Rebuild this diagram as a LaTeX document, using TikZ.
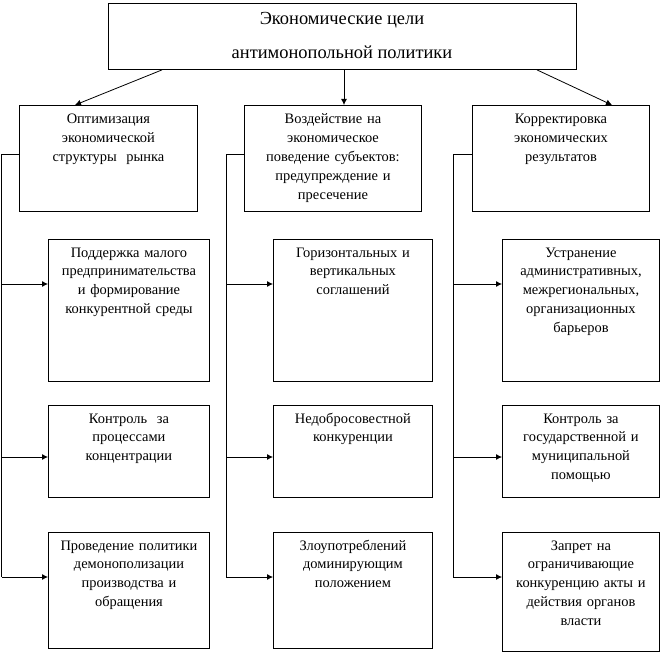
\documentclass[tikz,border=0pt]{standalone}
\usepackage{fontspec}
\setmainfont{Liberation Serif}
\usetikzlibrary{arrows.meta}
\begin{document}
\begin{tikzpicture}[x=1bp,y=-1bp,
  line width=0.8bp,
  box/.style={draw, line width=0.9bp, inner sep=0pt, anchor=north west},
  txt/.style={inner sep=0pt, anchor=base, align=center, text width=#1,
    font=\fontsize{14.5}{19}\selectfont},
  ttl/.style={inner sep=0pt, anchor=base, font=\fontsize{18.5}{22}\selectfont},
  arr/.style={-{Latex[length=6bp,width=6bp]}}]
\useasboundingbox (0,0) rectangle (662,655);
% top box
\node[box, minimum width=468bp, minimum height=66bp] (T) at (108,3) {};
\node[ttl] (T1) at (342,25) {Экономические цели};
\node[ttl] (T2) at (342,59) {антимонопольной политики};
% level 2
\node[box, minimum width=178bp, minimum height=106bp] (A) at (19,105) {};
\node[box, minimum width=177bp, minimum height=106bp] (B) at (244,105) {};
\node[box, minimum width=177bp, minimum height=106bp] (C) at (472,105) {};
\node[txt=178bp] (At) at ([yshift=-19bp]A.north) {Оптимизация\\экономической\\структуры~ рынка};
\node[txt=177bp] (Bt) at ([yshift=-19bp]B.north) {Воздействие на\\экономическое\\поведение субъектов:\\предупреждение и\\пресечение};
\node[txt=177bp] (Ct) at ([yshift=-19bp]C.north) {Корректировка\\экономических\\результатов};
% level 3 left
\node[box, minimum width=161bp, minimum height=142bp] (L1) at (48,239) {};
\node[box, minimum width=161bp, minimum height=92bp] (L2) at (48,405) {};
\node[box, minimum width=161bp, minimum height=116bp] (L3) at (48,532) {};
% level 3 middle
\node[box, minimum width=159bp, minimum height=142bp] (M1) at (273,239) {};
\node[box, minimum width=159bp, minimum height=92bp] (M2) at (273,405) {};
\node[box, minimum width=159bp, minimum height=116bp] (M3) at (273,532) {};
% level 3 right
\node[box, minimum width=157bp, minimum height=142bp] (R1) at (502,239) {};
\node[box, minimum width=157bp, minimum height=92bp] (R2) at (502,405) {};
\node[box, minimum width=157bp, minimum height=119bp] (R3) at (502,532) {};
% texts level 3
\node[txt=161bp] (L1t) at ([yshift=-18bp]L1.north) {Поддержка малого\\предпринимательства\\и формирование\\конкурентной среды};
\node[txt=161bp] (L2t) at ([yshift=-18bp]L2.north) {Контроль~ за\\процессами\\концентрации};
\node[txt=161bp] (L3t) at ([yshift=-18bp]L3.north) {Проведение политики\\демонополизации\\производства и\\обращения};
\node[txt=159bp] (M1t) at ([yshift=-18bp]M1.north) {Горизонтальных и\\вертикальных\\соглашений};
\node[txt=159bp] (M2t) at ([yshift=-18bp]M2.north) {Недобросовестной\\конкуренции};
\node[txt=159bp] (M3t) at ([yshift=-18bp]M3.north) {Злоупотреблений\\доминирующим\\положением};
\node[txt=157bp] (R1t) at ([yshift=-18bp]R1.north) {Устранение\\административных,\\межрегиональных,\\организационных\\барьеров};
\node[txt=157bp] (R2t) at ([yshift=-18bp]R2.north) {Контроль за\\государственной и\\муниципальной\\помощью};
\node[txt=157bp] (R3t) at ([yshift=-18bp]R3.north) {Запрет на\\ограничивающие\\конкуренцию акты и\\действия органов\\власти};
% top arrows
\draw[arr] (T.south -| 162,0) -- (A.north -| 75,0);
\draw[arr] (T.south -| 344,0) -- (B.north -| 344,0);
\draw[arr] (T.south -| 537,0) -- (C.north -| 612,0);
% brackets
\coordinate (bl) at (1.5,154);
\coordinate (bm) at (226,154);
\coordinate (br) at (453,154);
\draw (A.west |- bl) -- (bl) -- (bl |- 0,577);
\draw (B.west |- bm) -- (bm) -- (bm |- 0,577);
\draw (C.west |- br) -- (br) -- (br |- 0,577);
\draw[arr] (bl |- 0,284) -- (L1.west |- 0,284);
\draw[arr] (bl |- 0,457) -- (L2.west |- 0,457);
\draw[arr] (bl |- 0,577) -- (L3.west |- 0,577);
\draw[arr] (bm |- 0,284) -- (M1.west |- 0,284);
\draw[arr] (bm |- 0,457) -- (M2.west |- 0,457);
\draw[arr] (bm |- 0,577) -- (M3.west |- 0,577);
\draw[arr] (br |- 0,284) -- (R1.west |- 0,284);
\draw[arr] (br |- 0,457) -- (R2.west |- 0,457);
\draw[arr] (br |- 0,577) -- (R3.west |- 0,577);
\end{tikzpicture}
\end{document}
